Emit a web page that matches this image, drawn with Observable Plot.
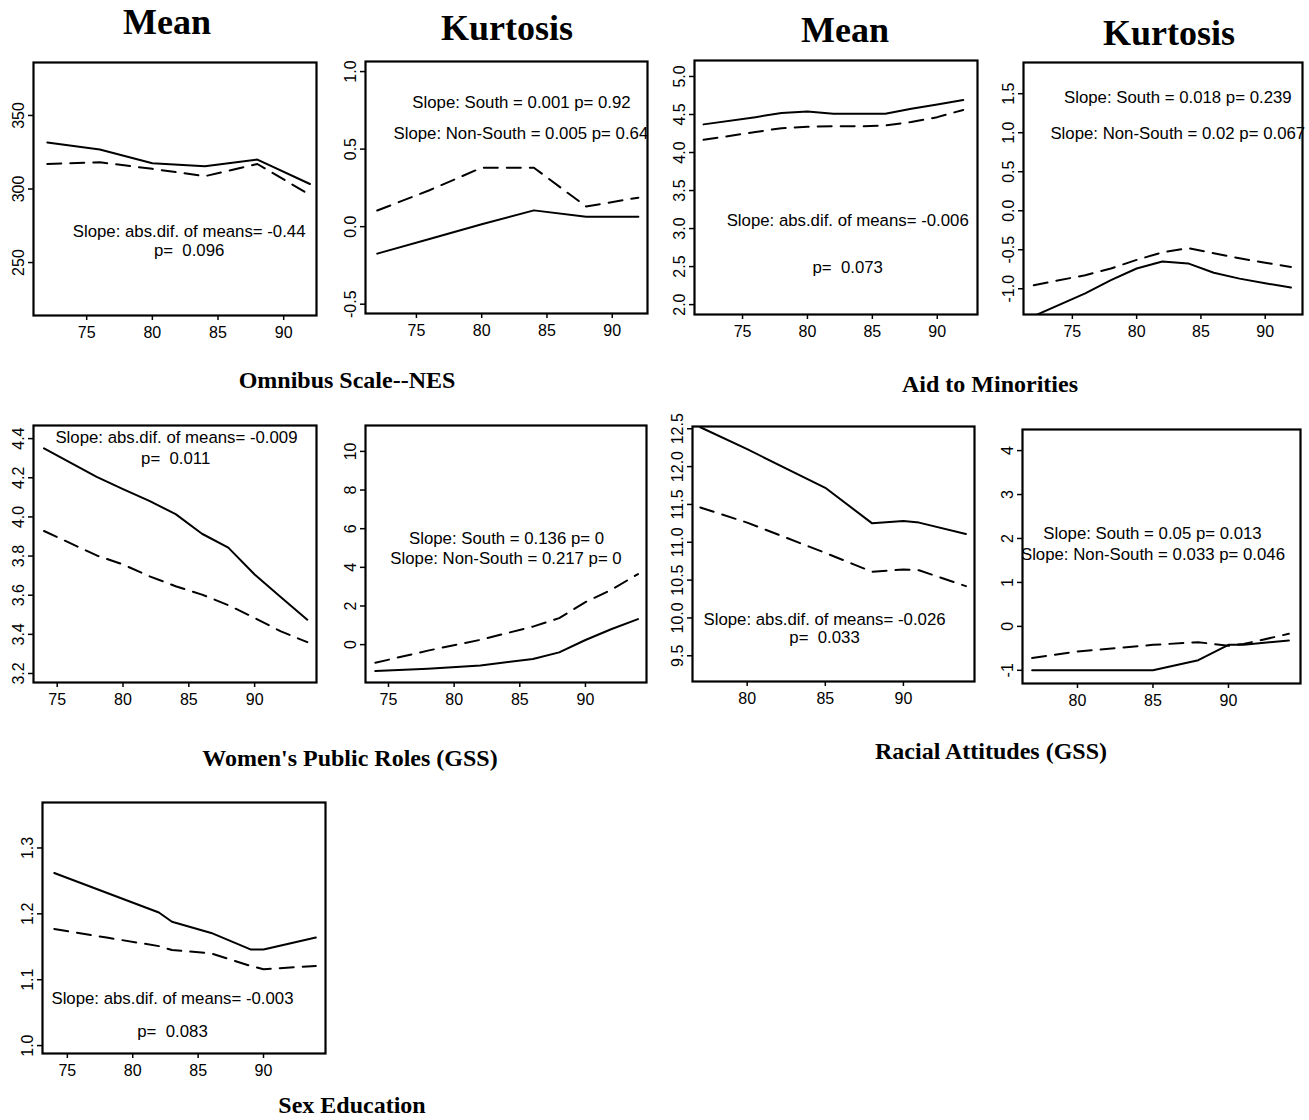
<!DOCTYPE html>
<html>
<head>
<meta charset="utf-8">
<script src="https://cdn.jsdelivr.net/npm/d3@7"></script>
<script src="https://cdn.jsdelivr.net/npm/@observablehq/plot@0.6"></script>
<style>
  body { margin: 0; background: #fff; }
  #root { position: relative; width: 1309px; height: 1120px; background: #fff; overflow: hidden; }
  .lbl { position: absolute; transform: translate(-50%, -50%); white-space: nowrap; line-height: 1;
         font-family: "Liberation Serif", "Times New Roman", serif; font-weight: bold; color: #000; }
  .head { font-size: 36px; }
  .sub { font-size: 24px; }
  svg text { white-space: pre; }
</style>
</head>
<body>
<div id="root"></div>
<script>
// ---------------- DATA ----------------
// Omnibus Scale -- NES
const omnibusYears = [72, 76, 80, 84, 88, 92];
const omnibusMeanSouth = [331.6, 326.8, 317.5, 315.4, 320, 303.4];
const omnibusMeanNonSouth = [317, 318.2, 313.7, 308.7, 317, 296];
const omnibusKurtSouth = [-0.174, -0.08, 0.015, 0.105, 0.064, 0.064];
const omnibusKurtNonSouth = [0.104, 0.235, 0.38, 0.38, 0.13, 0.187];

// Aid to Minorities
const aidYears = [72, 76, 78, 80, 82, 84, 86, 88, 90, 92];
const aidMeanSouth = [4.37, 4.465, 4.52, 4.54, 4.51, 4.51, 4.51, 4.575, 4.63, 4.69];
const aidMeanNonSouth = [4.167, 4.27, 4.32, 4.34, 4.345, 4.345, 4.355, 4.40, 4.465, 4.56];
const aidKurtSouth = [-1.35, -1.06, -0.89, -0.74, -0.65, -0.675, -0.795, -0.87, -0.93, -0.985];
const aidKurtNonSouth = [-0.955, -0.826, -0.74, -0.63, -0.533, -0.48, -0.546, -0.61, -0.667, -0.72];

// Women's Public Roles (GSS)
const womenMeanYears = [74, 78, 80, 82, 84, 86, 88, 90, 92, 94];
const womenMeanSouth = [4.35, 4.205, 4.142, 4.082, 4.014, 3.914, 3.843, 3.706, 3.59, 3.475];
const womenMeanNonSouth = [3.928, 3.803, 3.757, 3.697, 3.646, 3.603, 3.549, 3.484, 3.415, 3.36];
const womenKurtYears = [74, 78, 82, 86, 88, 90, 92, 94];
const womenKurtSouth = [-1.37, -1.25, -1.08, -0.74, -0.4, 0.24, 0.81, 1.32];
const womenKurtNonSouth = [-0.94, -0.31, 0.25, 0.93, 1.37, 2.2, 2.85, 3.65];

// Racial Attitudes (GSS)
const racialYears = [77, 80, 85, 88, 90, 91, 94];
const racialMeanSouth = [12.52, 12.23, 11.72, 11.25, 11.28, 11.26, 11.11];
const racialMeanNonSouth = [11.46, 11.26, 10.86, 10.61, 10.64, 10.63, 10.42];
const racialKurtSouth = [-1.0, -1.0, -1.0, -0.77, -0.42, -0.42, -0.32];
const racialKurtNonSouth = [-0.72, -0.57, -0.42, -0.36, -0.44, -0.40, -0.17];

// Sex Education
const sexYears = [74, 78, 82, 83, 86, 89, 90, 94];
const sexMeanSouth = [1.262, 1.232, 1.202, 1.188, 1.171, 1.146, 1.146, 1.164];
const sexMeanNonSouth = [1.177, 1.164, 1.151, 1.145, 1.140, 1.121, 1.116, 1.121];

// Tick labels
const ticks7292 = [75, 80, 85, 90];
const ticks8090 = [80, 85, 90];
const omnibusMeanTicks = [250, 300, 350];
const omnibusKurtTicks = [-0.5, 0, 0.5, 1.0];
const aidMeanTicks = [2.0, 2.5, 3.0, 3.5, 4.0, 4.5, 5.0];
const aidKurtTicks = [-1.0, -0.5, 0, 0.5, 1.0, 1.5];
const womenMeanTicks = [3.2, 3.4, 3.6, 3.8, 4.0, 4.2, 4.4];
const womenKurtTicks = [0, 2, 4, 6, 8, 10];
const racialMeanTicks = [9.5, 10.0, 10.5, 11.0, 11.5, 12.0, 12.5];
const racialKurtTicks = [-1, 0, 1, 2, 3, 4];
const sexMeanTicks = [1.0, 1.1, 1.2, 1.3];

// Annotation texts
const omnibusMeanNotes = ["Slope: abs.dif. of means= -0.44", "p=  0.096"];
const omnibusKurtNotes = ["Slope: South = 0.001 p= 0.92", "Slope: Non-South = 0.005 p= 0.64"];
const aidMeanNotes = ["Slope: abs.dif. of means= -0.006", "p=  0.073"];
const aidKurtNotes = ["Slope: South = 0.018 p= 0.239", "Slope: Non-South = 0.02 p= 0.067"];
const womenMeanNotes = ["Slope: abs.dif. of means= -0.009", "p=  0.011"];
const womenKurtNotes = ["Slope: South = 0.136 p= 0", "Slope: Non-South = 0.217 p= 0"];
const racialMeanNotes = ["Slope: abs.dif. of means= -0.026", "p=  0.033"];
const racialKurtNotes = ["Slope: South = 0.05 p= 0.013", "Slope: Non-South = 0.033 p= 0.046"];
const sexMeanNotes = ["Slope: abs.dif. of means= -0.003", "p=  0.083"];

const headings = ["Mean", "Kurtosis", "Mean", "Kurtosis"];
const subtitles = ["Omnibus Scale--NES", "Aid to Minorities", "Women's Public Roles (GSS)", "Racial Attitudes (GSS)", "Sex Education"];

// ---------------- LAYOUT ----------------
const root = document.getElementById("root");
const loc = d3.formatLocale({decimal: ".", thousands: ",", grouping: [3], currency: ["", ""], minus: "-"});
const f1 = loc.format(".1f");
const fd = loc.format("d");

function panel(cfg) {
  const mL = 50, mR = 20, mT = 12, mB = 40;
  const width = (cfg.R - cfg.L) + mL + mR;
  const height = (cfg.B - cfg.T) + mT + mB;
  const rows = cfg.years.map((yr, i) => ({year: yr, s: cfg.solid[i], d: cfg.dashed[i]}));
  const notes = cfg.notes.map((t, i) => ({text: t, x: cfg.noteX[i], y: cfg.noteY[i]}));
  const plot = Plot.plot({
    width, height,
    marginLeft: mL, marginRight: mR, marginTop: mT, marginBottom: mB,
    x: {domain: cfg.xDomain},
    y: {domain: cfg.yDomain},
    style: {fontFamily: "'Liberation Sans', Arial, sans-serif", fontSize: "15px", color: "#000", background: "transparent", overflow: "visible"},
    marks: [
      Plot.axisX({ticks: cfg.xTicks, tickSize: 5, tickPadding: 6, label: null, stroke: "#000", strokeWidth: 1.5, fontSize: 16}),
      Plot.axisY({ticks: cfg.yTicks, tickSize: 5, tickPadding: 5, tickRotate: -90, tickFormat: cfg.yFmt, label: null, stroke: "#000", strokeWidth: 1.5, fontSize: 16}),
      Plot.line(rows, {x: "year", y: "s", stroke: "#000", strokeWidth: 2, clip: true}),
      Plot.line(rows, {x: "year", y: "d", stroke: "#000", strokeWidth: 2, strokeDasharray: "14,9", clip: true}),
      Plot.frame({stroke: "#000", strokeWidth: 2.2}),
      Plot.text(notes, {x: "x", y: "y", text: "text", fontSize: 16.8, textAnchor: "middle", lineAnchor: "middle", fill: "#000"})
    ]
  });
  plot.style.position = "absolute";
  plot.style.left = (cfg.L - mL) + "px";
  plot.style.top = (cfg.T - mT) + "px";
  root.appendChild(plot);
}

function label(text, cls, x, y) {
  const d = document.createElement("div");
  d.className = "lbl " + cls;
  d.textContent = text;
  d.style.left = x + "px";
  d.style.top = y + "px";
  root.appendChild(d);
}

// Row 1
panel({L: 33, T: 62, R: 316, B: 315, xDomain: [70.95, 92.5], yDomain: [214, 386],
  xTicks: ticks7292, yTicks: omnibusMeanTicks, yFmt: fd,
  years: omnibusYears, solid: omnibusMeanSouth, dashed: omnibusMeanNonSouth,
  notes: omnibusMeanNotes, noteX: [82.8, 82.8], noteY: [271, 258]});
panel({L: 365, T: 61, R: 647, B: 313, xDomain: [71.1, 92.7], yDomain: [-0.56, 1.065],
  xTicks: ticks7292, yTicks: omnibusKurtTicks, yFmt: f1,
  years: omnibusYears, solid: omnibusKurtSouth, dashed: omnibusKurtNonSouth,
  notes: omnibusKurtNotes, noteX: [83.05, 83.0], noteY: [0.80, 0.60]});
panel({L: 694, T: 60, R: 977, B: 314, xDomain: [71.3, 93.1], yDomain: [1.87, 5.21],
  xTicks: ticks7292, yTicks: aidMeanTicks, yFmt: f1,
  years: aidYears, solid: aidMeanSouth, dashed: aidMeanNonSouth,
  notes: aidMeanNotes, noteX: [83.1, 83.1], noteY: [3.106, 2.488]});
panel({L: 1023, T: 62, R: 1302, B: 314, xDomain: [71.2, 92.9], yDomain: [-1.33, 1.9],
  xTicks: ticks7292, yTicks: aidKurtTicks, yFmt: f1,
  years: aidYears, solid: aidKurtSouth, dashed: aidKurtNonSouth,
  notes: aidKurtNotes, noteX: [83.2, 83.2], noteY: [1.45, 0.99]});

// Row 2
panel({L: 33, T: 425, R: 316, B: 682, xDomain: [73.2, 94.7], yDomain: [3.154, 4.467],
  xTicks: ticks7292, yTicks: womenMeanTicks, yFmt: f1,
  years: womenMeanYears, solid: womenMeanSouth, dashed: womenMeanNonSouth,
  notes: womenMeanNotes, noteX: [84.06, 84.0], noteY: [4.406, 4.30]});
panel({L: 365, T: 425, R: 646, B: 682, xDomain: [73.25, 94.65], yDomain: [-1.96, 11.34],
  xTicks: ticks7292, yTicks: womenKurtTicks, yFmt: fd,
  years: womenKurtYears, solid: womenKurtSouth, dashed: womenKurtNonSouth,
  notes: womenKurtNotes, noteX: [83.99, 83.95], noteY: [5.49, 4.46]});
panel({L: 692, T: 426, R: 974, B: 681, xDomain: [76.5, 94.55], yDomain: [9.16, 12.53],
  xTicks: ticks8090, yTicks: racialMeanTicks, yFmt: f1,
  years: racialYears, solid: racialMeanSouth, dashed: racialMeanNonSouth,
  notes: racialMeanNotes, noteX: [84.95, 84.95], noteY: [9.98, 9.74]});
panel({L: 1022, T: 429, R: 1300, B: 683, xDomain: [76.36, 94.77], yDomain: [-1.3, 4.48],
  xTicks: ticks8090, yTicks: racialKurtTicks, yFmt: fd,
  years: racialYears, solid: racialKurtSouth, dashed: racialKurtNonSouth,
  notes: racialKurtNotes, noteX: [84.97, 85.0], noteY: [2.11, 1.64]});

// Row 3
panel({L: 42, T: 802, R: 325, B: 1053, xDomain: [73.1, 94.74], yDomain: [0.988, 1.369],
  xTicks: ticks7292, yTicks: sexMeanTicks, yFmt: f1,
  years: sexYears, solid: sexMeanSouth, dashed: sexMeanNonSouth,
  notes: sexMeanNotes, noteX: [83.04, 83.04], noteY: [1.071, 1.021]});

// Headings and subtitles
label(headings[0], "head", 167, 22);
label(headings[1], "head", 507, 28);
label(headings[2], "head", 845, 30);
label(headings[3], "head", 1169, 33);
label(subtitles[0], "sub", 347, 380);
label(subtitles[1], "sub", 990, 384);
label(subtitles[2], "sub", 350, 758);
label(subtitles[3], "sub", 991, 751);
label(subtitles[4], "sub", 352, 1105);
</script>
</body>
</html>
